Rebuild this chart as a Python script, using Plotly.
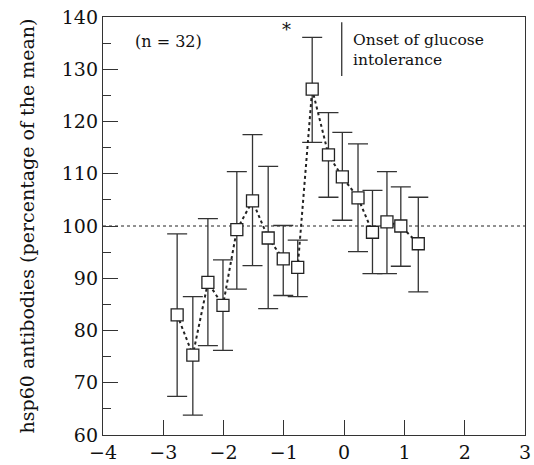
import plotly.graph_objects as go

# Data
time_years = [-2.77, -2.51, -2.26, -2.01, -1.78, -1.52, -1.26, -1.01, -0.77,
              -0.53, -0.26, -0.03, 0.23, 0.47, 0.71, 0.94, 1.23]
hsp60_pct = [83.0, 75.3, 89.2, 84.8, 99.3, 104.8, 97.7, 93.7, 92.1,
             126.2, 113.6, 109.4, 105.4, 98.8, 100.8, 100.0, 96.6]
err_upper = [98.5, 86.5, 101.4, 93.5, 110.4, 117.5, 111.4, 100.1, 97.3,
             136.1, 121.7, 117.9, 115.7, 106.8, 110.4, 107.5, 105.5]
err_lower = [67.4, 63.8, 77.1, 76.2, 87.9, 92.4, 84.2, 86.7, 86.5,
             116.0, 105.5, 101.1, 95.1, 90.9, 90.9, 92.3, 87.4]
x_ticks = [-4, -3, -2, -1, 0, 1, 2, 3]
y_ticks = [60, 70, 80, 90, 100, 110, 120, 130, 140]
reference_level = 100
onset_x = -0.04

plus = [u - m for u, m in zip(err_upper, hsp60_pct)]
minus = [m - l for m, l in zip(hsp60_pct, err_lower)]

FONT = "DejaVu Serif, Liberation Serif, serif"

fig = go.Figure()

fig.add_trace(go.Scatter(
    x=time_years, y=hsp60_pct, mode="markers",
    marker=dict(size=1, color="rgba(0,0,0,0)"),
    error_y=dict(type="data", symmetric=False, array=plus, arrayminus=minus,
                 color="#333333", thickness=1.3, width=10),
    showlegend=False, hoverinfo="skip"))

fig.add_trace(go.Scatter(
    x=time_years, y=hsp60_pct, mode="lines+markers",
    line=dict(color="#222222", width=2, dash="dot"),
    marker=dict(symbol="square", size=12, color="white",
                line=dict(color="#222222", width=1.3)),
    showlegend=False))

fig.add_shape(type="line", xref="x", yref="y", x0=-4, x1=3,
              y0=reference_level, y1=reference_level,
              line=dict(color="#222222", width=1, dash="dot"), layer="below")
fig.add_shape(type="line", xref="x", yref="y", x0=onset_x, x1=onset_x,
              y0=128.7, y1=139.0, line=dict(color="#333333", width=1.3))

fig.add_annotation(x=-3.51, y=135.4, xref="x", yref="y", text="(n = 32)",
                   showarrow=False, xanchor="left", yanchor="middle",
                   font=dict(family=FONT, size=16, color="#111111"))
fig.add_annotation(x=-0.96, y=137.6, xref="x", yref="y", text="*",
                   showarrow=False, xanchor="center", yanchor="middle",
                   font=dict(family=FONT, size=18, color="#111111"))
fig.add_annotation(x=0.11, y=133.6, xref="x", yref="y",
                   text="Onset of glucose<br>intolerance",
                   showarrow=False, xanchor="left", yanchor="middle", align="left",
                   font=dict(family=FONT, size=15.5, color="#111111"))

fig.update_layout(
    width=534, height=465,
    margin=dict(l=103, r=9, t=17, b=30, autoexpand=False),
    paper_bgcolor="white", plot_bgcolor="white",
    font=dict(family=FONT, size=19, color="#111111"),
)
fig.update_xaxes(range=[-4, 3], tickvals=x_ticks, ticks="inside", ticklen=15,
                 tickcolor="#333333", tickwidth=1.3, automargin=False,
                 showline=True, linecolor="#333333", linewidth=1.3, mirror=True,
                 showgrid=False, zeroline=False,
                 tickfont=dict(family=FONT, size=19))
fig.update_yaxes(range=[60, 140], tickvals=y_ticks, ticks="inside", ticklen=15,
                 tickcolor="#333333", tickwidth=1.3, automargin=False,
                 minor=dict(ticks="inside", ticklen=8, dtick=5, tickcolor="#333333",
                            tickwidth=1.3, showgrid=False),
                 showline=True, linecolor="#333333", linewidth=1.3, mirror=True,
                 showgrid=False, zeroline=False,
                 tickfont=dict(family=FONT, size=19),
                 title=dict(text="hsp60 antibodies (percentage of the mean)",
                            font=dict(family=FONT, size=19), standoff=22))

fig.write_html("out.html", config={"displayModeBar": False},
               post_script="document.body.style.margin='0';document.body.style.padding='0';")
